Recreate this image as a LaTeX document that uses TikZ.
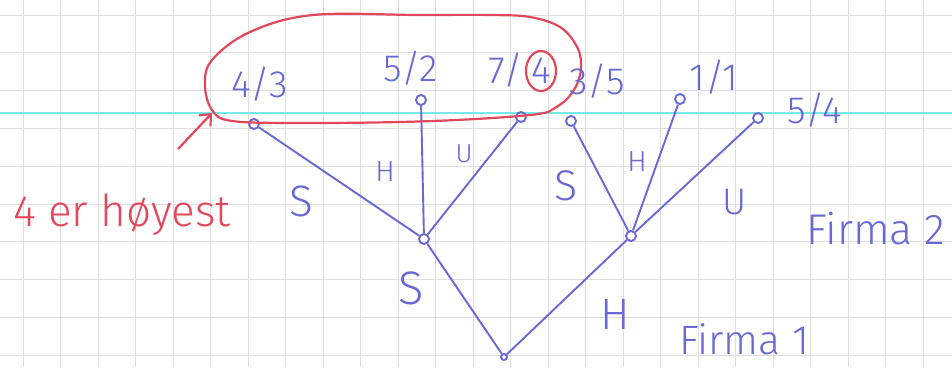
\documentclass[tikz,border=0pt]{standalone}
\usepackage{fontspec}
\setmainfont{Fira Sans Light}
\usetikzlibrary{arrows.meta}
\definecolor{inkblue}{RGB}{104,104,214}
\definecolor{redc}{RGB}{226,72,92}
\definecolor{gridc}{RGB}{222,222,222}
\definecolor{cyanl}{RGB}{120,232,232}
\newcommand{\fs}[1]{\fontsize{#1}{#1}\selectfont}
\begin{document}
\begin{tikzpicture}[x=1pt,y=-1pt,
  ink/.style={draw=inkblue, line width=1.9pt},
  vtx/.style={circle, draw=inkblue, line width=1.9pt, inner sep=0pt, minimum size=10pt},
  rootvtx/.style={vtx, minimum size=6pt},
  pay/.style={text=inkblue, font=\fs{38}, inner sep=0pt},
  lbl/.style={text=inkblue, inner sep=0pt},
  redink/.style={draw=redc, line width=2.2pt},
  gridline/.style={draw=gridc, line width=1pt}]
\useasboundingbox (0,0) rectangle (952,367);
\fill[white] (0,0) rectangle (952,367);
% grid paper
\foreach \i in {0,...,24} \draw[gridline] ({23+37.5*\i},0) -- ({23+37.5*\i},367);
\foreach \j in {0,...,9} \draw[gridline] (0,{15+37.8*\j}) -- (952,{15+37.8*\j});
\draw[draw=cyanl, line width=1.6pt] (0,113) -- (952,113);
% vertices
\node[vtx] (a43) at (254,124) {};
\node[vtx] (a52) at (421,100) {};
\node[vtx] (a74) at (521,117) {};
\node[vtx] (a35) at (571,121) {};
\node[vtx] (a11) at (680,99) {};
\node[vtx] (a54) at (758,118) {};
\node[vtx] (f2l) at (424,239) {};
\node[vtx] (f2r) at (631,236) {};
\node[rootvtx] (r) at (504,357) {};
% edges
\draw[ink] (a43) -- (f2l);
\draw[ink] (a52) -- (f2l);
\draw[ink] (a74) -- (f2l);
\draw[ink] (a35) -- (f2r);
\draw[ink] (a11) -- (f2r);
\draw[ink] (a54) -- (f2r);
\draw[ink] (f2l) -- (r);
\draw[ink] (f2r) -- (r);
% red loop
\draw[redink] plot[smooth, tension=0.6] coordinates {(548,112) (566,100) (578,82) (581,62) (576,45) (560,27) (530,17) (490,15) (420,15) (313,15) (250,32) (212,60) (205,85) (212,110) (232,121) (300,123) (400,122) (476,119) (530,115) (548,112)};
% payoffs
\node[pay] (p43) at (260,84) {4/3};
\node[pay] (p52) at (411,68) {5/2};
\node[pay] (p7) at (506,70) {7/};
\node[pay] (p4) at (541,71) {4};
\draw[redink] (p4.center) ellipse (15 and 20);
\node[pay] (p35) at (597,81) {3/5};
\node[pay] (p11) at (714,77) {1/1};
\node[pay] (p54) at (815,110) {5/4};
% edge labels
\node[lbl, font=\fs{44}] (s1) at (301,201) {S};
\node[lbl, font=\fs{29}] (h1) at (385,172) {H};
\node[lbl, font=\fs{26}] (u1) at (464,154) {U};
\node[lbl, font=\fs{43}] (s2) at (566,186) {S};
\node[lbl, font=\fs{29}] (h2) at (637,162) {H};
\node[lbl, font=\fs{37}] (u2) at (735,202) {U};
\node[lbl, font=\fs{47}] (s3) at (411,288) {S};
\node[lbl, font=\fs{44}] (h3) at (615,314) {H};
\node[lbl, font=\fs{43}] (firma2) at (876,229) {Firma 2};
\node[lbl, font=\fs{41}] (firma1) at (744,339) {Firma 1};
% red annotation
\node[text=redc, font=\fs{44}, inner sep=0pt] (note) at (122,215) {4 er høyest};
\coordinate (arT) at (178,149);
\coordinate (arH) at (212,113);
\draw[redink, -{Straight Barb[length=9pt,width=16pt]}] (arT) -- (arH);
\end{tikzpicture}
\end{document}
